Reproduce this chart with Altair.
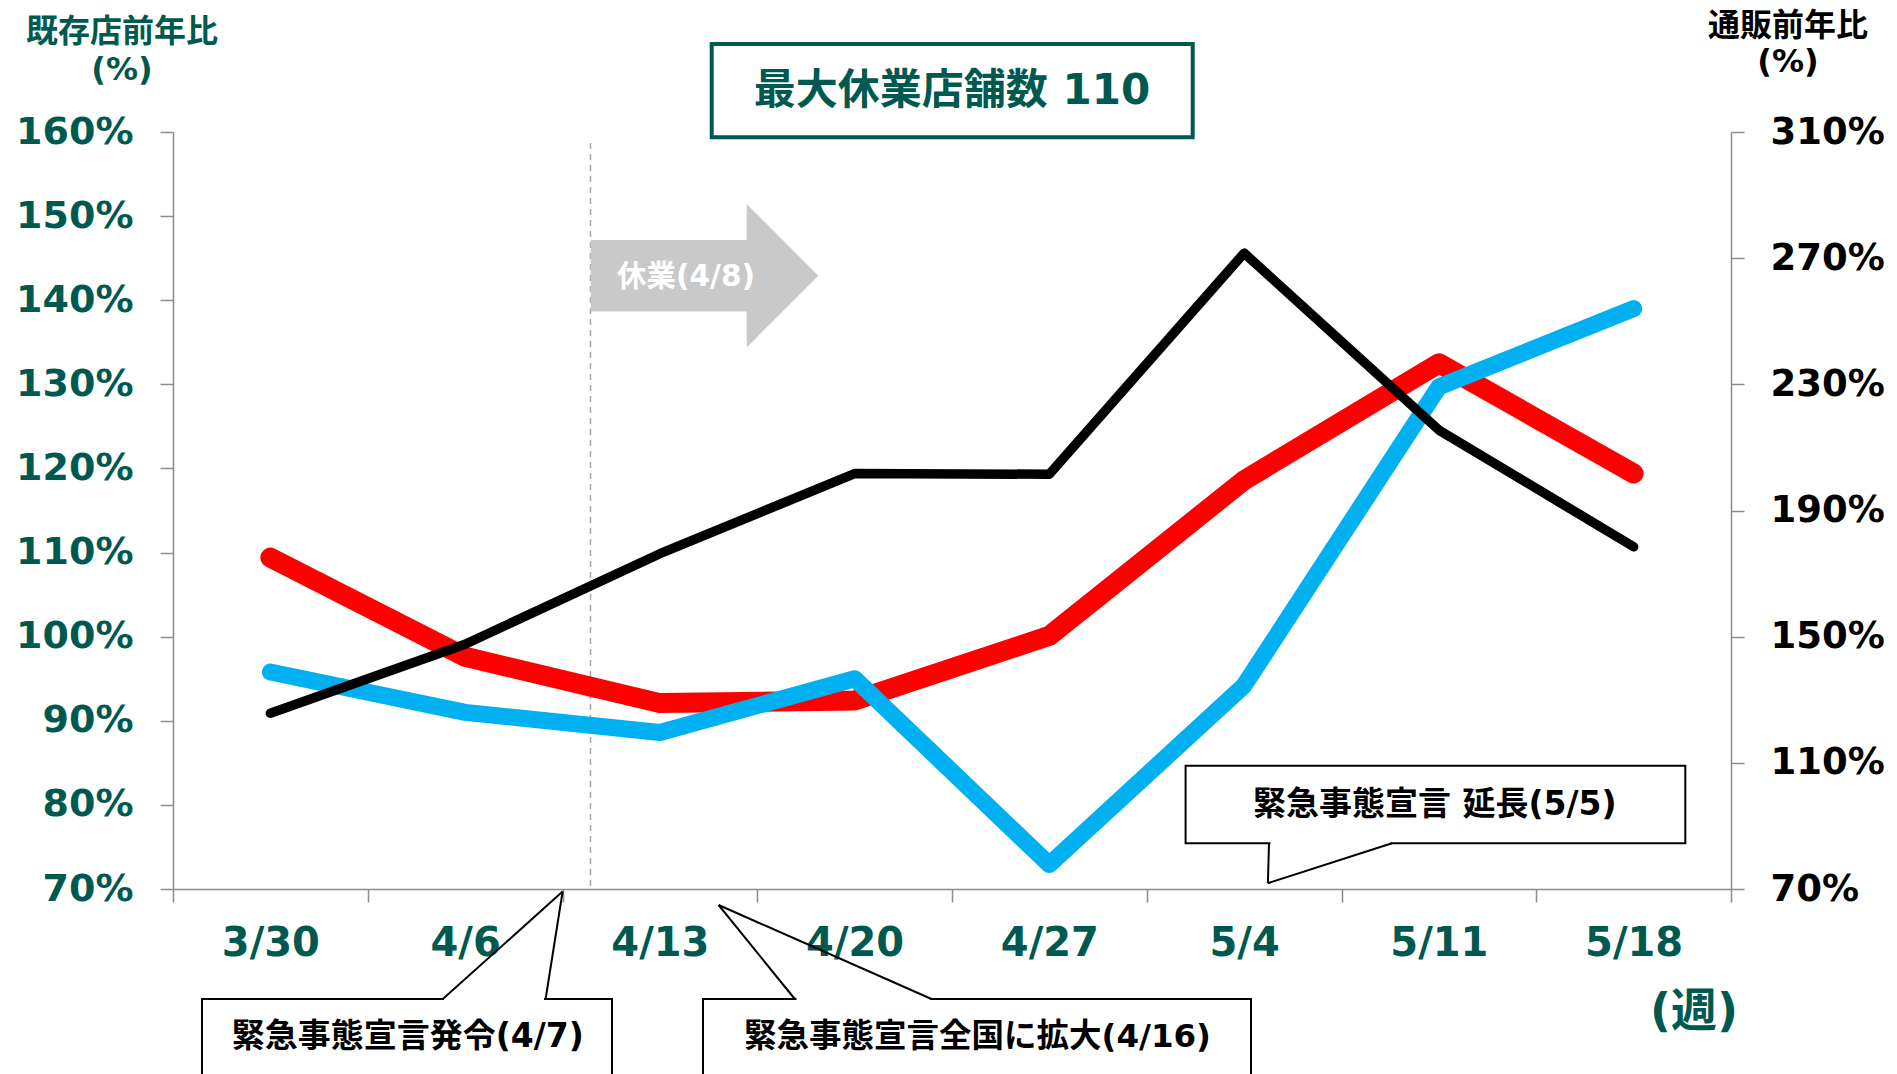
import altair as alt
import pandas as pd

# ---------------- data ----------------
weeks = ["3/30", "4/6", "4/13", "4/20", "4/27", "5/4", "5/11", "5/18"]
store_red = [109.4, 97.6, 92.1, 92.4, 100.1, 118.6, 132.5, 119.4]
store_blue = [95.8, 91.0, 88.6, 95.0, 72.9, 94.2, 129.7, 139.0]
online_black = [125.7, 147.6, 176.3, 201.7, 201.5, 271.6, 215.5, 178.5]
left_ticks = [70, 80, 90, 100, 110, 120, 130, 140, 150, 160]
right_ticks = [70, 110, 150, 190, 230, 270, 310]

left_title = ["既存店前年比", "(%)"]
right_title = ["通販前年比", "(%)"]
box_title = "最大休業店舗数 110"
closure_label = "休業(4/8)"
callout1 = "緊急事態宣言発令(4/7)"
callout2 = "緊急事態宣言全国に拡大(4/16)"
callout3 = "緊急事態宣言 延長(5/5)"
x_unit = "(週)"

df = pd.DataFrame({
    "i": list(range(len(weeks))),
    "week": weeks,
    "red": store_red,
    "blue": store_blue,
    "black": online_black,
})
one = pd.DataFrame({"k": [0]})

# ---------------- style ----------------
W, H = 1558, 757
FONT = "DejaVu Sans, Noto Sans CJK JP"
GREEN = "#00594F"
AXC = "#8c8c8c"
RED = "#FF0000"
BLUE = "#00B0F0"
BLACK = "#000000"

n = len(weeks)
label_expr = "(" + str(weeks).replace('"', "'") + ")[round(datum.value + 0.5)] || ''"

x_scale = alt.Scale(domain=[-0.5, n - 0.5], nice=False, zero=False)
x_axis = alt.Axis(
    values=[k - 0.5 for k in range(n + 1)],
    labelExpr=label_expr,
    labelOffset=W / (2 * n),
    title=None, grid=False,
    tickSize=13, tickColor=AXC, tickWidth=1.5,
    domainColor=AXC, domainWidth=1.5,
    labelFont=FONT, labelFontSize=40, labelFontWeight="bold", labelColor=GREEN,
    labelPadding=21, labelFlush=False, labelOverlap=False, labelBound=False,
)

left_scale = alt.Scale(domain=[70, 160], nice=False, zero=False)
left_axis = alt.Axis(
    values=left_ticks, labelExpr="datum.value + '%'", title=None, grid=False,
    tickSize=13, tickColor=AXC, tickWidth=1.5, domainColor=AXC, domainWidth=1.5,
    labelFont=FONT, labelFontSize=38, labelFontWeight="bold", labelColor=GREEN,
    labelPadding=27, labelOverlap=False, labelBound=False, labelFlush=False,
)
right_scale = alt.Scale(domain=[70, 310], nice=False, zero=False)
right_axis = alt.Axis(
    orient="right", values=right_ticks, labelExpr="datum.value + '%'", title=None, grid=False,
    tickSize=13, tickColor=AXC, tickWidth=1.5, domainColor=AXC, domainWidth=1.5,
    labelFont=FONT, labelFontSize=37, labelFontWeight="bold", labelColor=BLACK,
    labelPadding=26, labelOverlap=False, labelBound=False, labelFlush=False,
)


# ---------------- helpers for annotations ----------------
def rule(x1, y1, x2, y2, color="black", w=2.0, dash=None):
    kw = dict(color=color, strokeWidth=w)
    if dash:
        kw["strokeDash"] = dash
    return alt.Chart(one).mark_rule(**kw).encode(
        x=alt.value(x1), y=alt.value(y1), x2=alt.value(x2), y2=alt.value(y2))


def rect(x1, y1, x2, y2, fill="white", stroke="black", sw=2.0):
    return alt.Chart(one).mark_rect(fill=fill, stroke=stroke, strokeWidth=sw).encode(
        x=alt.value(x1), x2=alt.value(x2), y=alt.value(y1), y2=alt.value(y2))


def text(s, x, y, size, color, align="center"):
    return alt.Chart(one).mark_text(
        text=s, font=FONT, fontSize=size, fontWeight="bold", color=color,
        align=align, baseline="middle").encode(x=alt.value(x), y=alt.value(y))


# ---------------- data layers ----------------
dashed = rule(417.5, 11, 417.5, H, color="#a6a6a6", w=1.5, dash=[6, 5])

red_line = alt.Chart(df).mark_line(
    color=RED, strokeWidth=20, strokeCap="round", strokeJoin="round").encode(
    x=alt.X("i:Q", scale=x_scale, axis=x_axis),
    y=alt.Y("red:Q", scale=left_scale, axis=left_axis),
)
blue_line = alt.Chart(df).mark_line(
    color=BLUE, strokeWidth=17, strokeCap="round", strokeJoin="round").encode(
    x=alt.X("i:Q", scale=x_scale, axis=x_axis),
    y=alt.Y("blue:Q", scale=left_scale, axis=left_axis),
)
black_line = alt.Chart(df).mark_line(
    color=BLACK, strokeWidth=9.5, strokeCap="round", strokeJoin="round").encode(
    x=alt.X("i:Q", scale=x_scale, axis=x_axis),
    y=alt.Y("black:Q", scale=right_scale, axis=right_axis),
)

left_group = alt.layer(dashed, red_line, blue_line)

# arrow (closure)
arrow_path = "M-1,-0.314L0.371,-0.314L0.371,-0.63L1,0L0.371,0.63L0.371,0.314L-1,0.314Z"
arrow = alt.Chart(one).mark_point(
    shape=arrow_path, size=227.6 ** 2, filled=True, color="#c9c9c9",
    opacity=1, strokeWidth=0).encode(x=alt.value(531.5), y=alt.value(143.7))

annots = [
    arrow,
    text(closure_label, 513, 145, 29.5, "white"),
    # axis titles
    text(left_title[0], -51, -100, 32, GREEN),
    text(left_title[1], -51, -62, 32, GREEN),
    text(right_title[0], 1615, -106, 32, BLACK),
    text(right_title[1], 1615, -70, 32, BLACK),
    text(x_unit, 1521, 880, 46, GREEN),
    # title box
    rect(538.7, -88, 1019.7, 5.3, fill="white", stroke=GREEN, sw=4),
    text(box_title, 779, -41, 42, GREEN),
    # callout 1
    rect(29, 867, 439, 962),
    rule(271, 867, 371, 867, color="white", w=4),
    rule(269.8, 867, 389.6, 759.6),
    rule(372.6, 867, 389.6, 759.6),
    text(callout1, 234.7, 905, 33, BLACK),
    # callout 2
    rect(530, 867, 1078, 962),
    rule(623.5, 867, 757, 867, color="white", w=4),
    rule(621.8, 867, 545.6, 773),
    rule(758.5, 867, 545.6, 773),
    text(callout2, 804.5, 905, 32.5, BLACK),
    # callout 3
    rect(1012.6, 633.8, 1512.3, 711.2),
    rule(1097.5, 711.2, 1217.5, 711.2, color="white", w=4),
    rule(1096, 711.2, 1094.9, 751.2),
    rule(1219, 711.2, 1094.9, 751.2),
    text(callout3, 1261.8, 673, 33, BLACK),
]

chart = alt.layer(left_group, black_line, *annots).resolve_scale(y="independent").properties(
    width=W, height=H,
    padding={"left": 173, "top": 132, "right": 166, "bottom": 185},
    autosize=alt.AutoSizeParams(type="none"),
    background="white",
).configure_view(stroke=None)

chart.save("out.html", embed_options={"renderer": "svg", "actions": False})
